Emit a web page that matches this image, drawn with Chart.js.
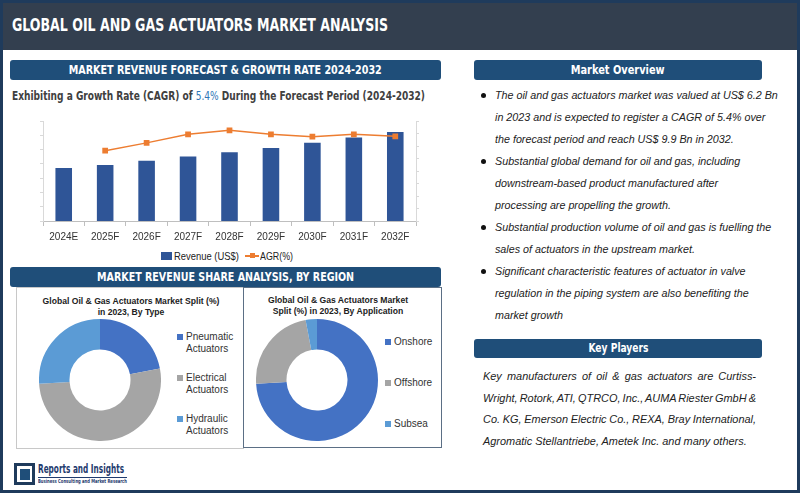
<!DOCTYPE html>
<html>
<head>
<meta charset="utf-8">
<script src="https://cdn.jsdelivr.net/npm/chart.js@4"></script>
<style>
  body { margin: 0; }
  #page {
    position: relative; width: 800px; height: 493px; overflow: hidden;
    background: #fff; font-family: "Liberation Sans", Arial, sans-serif;
  }
  .abs { position: absolute; }
  #frame { left: 0; top: 0; width: 800px; height: 493px; box-sizing: border-box; border: 3px solid #1f3b5c; }
  #header { left: 0; top: 0; width: 800px; height: 50px; background: #333f4f; border-top: 3px solid #1f3b5c; box-sizing: border-box; }
  .cond { font-family: "Liberation Sans Narrow", "DejaVu Sans Condensed", "Liberation Sans", sans-serif; }
  .fit { display: inline-block; white-space: nowrap; }
  #title { left: 12px; top: 15px; color: #fff; font-weight: bold; font-size: 17px; }
  #title .fit, #sub .fit, .logo .fit, .lg .fit { transform-origin: left center; }
  .bar {
    background: #1f4e79; color: #fff; border-radius: 3px; height: 20px; line-height: 20px;
    text-align: center; font-weight: bold; font-size: 12px; white-space: nowrap;
  }
  #sub { left: 12px; top: 89px; font-weight: bold; font-size: 12px; color: #404040; }
  #sub span span { color: #2e75b6; font-weight: normal; }
  .txt { font-style: italic; font-size: 11px; color: #222; white-space: nowrap; }
  .line { height: 22px; line-height: 22px; }
  .dot { width: 5px; height: 5px; border-radius: 50%; background: #111; }
  .box { box-sizing: border-box; background: #fff; }
  .dtitle { font: bold 8.6px Arial, "Liberation Sans", sans-serif; color: #222; text-align: center; line-height: 10.5px; }
  .leg { font-size: 10px; color: #333; line-height: 11.5px; }
  .lg { font-size: 11px; color: #222; line-height: 12px; }
  .sq { width: 6px; height: 6px; }
  .kline { height: 21.7px; line-height: 21.7px; white-space: nowrap; }
</style>
</head>
<body>
<div id="page">
  <div id="header" class="abs"></div>
  <div id="title" class="abs cond"><span class="fit" data-w="376">GLOBAL OIL AND GAS ACTUATORS MARKET ANALYSIS</span></div>

  <div class="abs bar cond" style="left:10px;top:60px;width:431px;"><span class="fit" data-w="313">MARKET REVENUE FORECAST &amp; GROWTH RATE 2024-2032</span></div>
  <div class="abs bar cond" style="left:474px;top:60px;width:288px;"><span class="fit" data-w="94">Market Overview</span></div>
  <div id="sub" class="abs cond"><span class="fit" data-w="413">Exhibiting a Growth Rate (CAGR) of <span>5.4%</span> During the Forecast Period (2024-2032)</span></div>

  <canvas id="revChart" class="abs" style="left:0;top:110px;" width="450" height="140"></canvas>

  <!-- bar chart legend -->
  <div class="abs" style="left:161px;top:252px;width:11px;height:8px;background:#2f5597;"></div>
  <div class="abs lg" style="left:174px;top:250px;"><span class="fit" data-w="65">Revenue (US$)</span></div>
  <div class="abs" style="left:245px;top:255px;width:14px;height:2px;background:#ed7d31;"></div>
  <div class="abs" style="left:250px;top:253px;width:5px;height:5px;background:#ed7d31;"></div>
  <div class="abs lg" style="left:260px;top:250px;"><span class="fit" data-w="33">AGR(%)</span></div>

  <div class="abs bar cond" style="left:10px;top:267px;width:431px;"><span class="fit" data-w="257">MARKET REVENUE SHARE ANALYSIS, BY REGION</span></div>

  <div class="abs box" style="left:16px;top:287px;width:228px;height:162px;border:1px solid #c8c8c8;"></div>
  <div class="abs box" style="left:243px;top:287px;width:199px;height:161px;border:1px solid #5b6f85;"></div>

  <div class="abs dtitle" style="left:16px;top:296px;width:230px;">Global Oil &amp; Gas Actuators Market Split (%)<br>in 2023, By Type</div>
  <div class="abs dtitle" style="left:243px;top:295px;width:190px;">Global Oil &amp; Gas Actuators Market<br>Split (%) in 2023, By Application</div>

  <canvas id="typeChart" class="abs" style="left:39px;top:319px;" width="122" height="122"></canvas>
  <canvas id="appChart" class="abs" style="left:256px;top:319px;" width="122" height="122"></canvas>

  <div id="typeLegend"></div>
  <div id="appLegend"></div>

  <!-- logo -->
  <div class="abs" style="left:14px;top:463px;width:21px;height:22px;box-sizing:border-box;border:3px solid #1f3b5c;background:#fff;"></div>
  <div class="abs" style="left:20px;top:469px;width:10px;height:11px;background:#1f4e79;"></div>
  <div class="abs logo cond" style="left:38px;top:462px;font-weight:bold;font-size:12px;color:#1f3b6e;"><span class="fit" data-w="86">Reports and Insights</span></div>
  <div class="abs" style="left:38px;top:477px;width:89px;height:1px;background:#1f3b6e;"></div>
  <div class="abs logo cond" style="left:38px;top:478px;font-weight:bold;font-size:5.5px;color:#1f3b6e;"><span class="fit" data-w="89">Business Consulting and Market Research</span></div>

  <div id="overview" class="abs" style="left:481px;top:84px;"></div>

  <div class="abs bar cond" style="left:474px;top:339px;width:288px;height:19px;line-height:19px;"><span class="fit" data-w="60">Key Players</span></div>
  <div id="players" class="abs" style="left:483px;top:366px;"></div>

  <div id="frame" class="abs"></div>
</div>

<script>
const years = ["2024E", "2025F", "2026F", "2027F", "2028F", "2029F", "2030F", "2031F", "2032F"];
const revenue = [6.5, 6.8, 7.2, 7.6, 8.0, 8.4, 8.9, 9.4, 9.9];
const agr = [null, 4.5, 5.0, 5.55, 5.8, 5.55, 5.4, 5.55, 5.42];

const typeLabels = [["Pneumatic", "Actuators"], ["Electrical", "Actuators"], ["Hydraulic", "Actuators"]];
const typeShare = [22, 52, 26];
const appLabels = ["Onshore", "Offshore", "Subsea"];
const appShare = [74, 23, 3];

const overviewLines = [
    ["The oil and gas actuators market was valued at US$ 6.2 Bn",
     "in 2023 and is expected to register a CAGR of 5.4% over",
     "the forecast period and reach US$ 9.9 Bn in 2032."],
    ["Substantial global demand for oil and gas, including",
     "downstream-based product manufactured after",
     "processing are propelling the growth."],
    ["Substantial production volume of oil and gas is fuelling the",
     "sales of actuators in the upstream market."],
    ["Significant characteristic features of actuator in valve",
     "regulation in the piping system are also benefiting the",
     "market growth"]
];
const playerLines = [
    "Key manufacturers of oil & gas actuators are Curtiss-",
    "Wright, Rotork, ATI, QTRCO, Inc., AUMA Riester GmbH &",
    "Co. KG, Emerson Electric Co., REXA, Bray International,",
    "Agromatic Stellantriebe, Ametek Inc. and many others."
];

const BLUE = "#4472c4", GREY = "#a5a5a5", LIGHT = "#5b9bd5";

/* =========================
   TEXT BLOCKS
========================= */

// squeeze headings to the widths they have in the picture
document.querySelectorAll(".fit").forEach(el => {
    const w = el.getBoundingClientRect().width;
    el.style.transform = "scaleX(" + (Number(el.dataset.w) / w) + ")";
});

const overview = document.getElementById("overview");
let row = 0;
const ovLines = [];
overviewLines.forEach(item => {
    item.forEach((t, i) => {
        if (i === 0) {
            const d = document.createElement("div");
            d.className = "abs dot";
            d.style.left = "0px";
            d.style.top = (row * 22 + 9) + "px";
            overview.appendChild(d);
        }
        const l = document.createElement("div");
        l.className = "abs txt line";
        l.style.left = "14px";
        l.style.top = (row * 22) + "px";
        l.innerHTML = "<span>" + t + "</span>";
        overview.appendChild(l);
        ovLines.push(l);
        row++;
    });
});
// first line runs 283px wide in the reference
const ov0 = ovLines[0].firstChild.getBoundingClientRect().width;
ovLines.forEach(l => { l.style.fontSize = (11 * 283 / ov0) + "px"; });

const players = document.getElementById("players");
const pl = playerLines.map(t => {
    const l = document.createElement("div");
    l.className = "txt kline";
    const s = document.createElement("span");
    s.textContent = t;
    l.appendChild(s);
    players.appendChild(l);
    return l;
});
// last line is 264px wide; other lines are justified to 273px
const lastW = pl[pl.length - 1].firstChild.getBoundingClientRect().width;
const fs = 11 * 264 / lastW;
pl.forEach((l, i) => {
    l.style.fontSize = fs + "px";
    if (i < pl.length - 1) {
        const w = l.firstChild.getBoundingClientRect().width;
        const gaps = playerLines[i].split(" ").length - 1;
        l.style.wordSpacing = ((273 - w) / gaps) + "px";
    }
});

function legend(id, labels, colors, x, ys) {
    const box = document.getElementById(id);
    labels.forEach((lab, i) => {
        const s = document.createElement("div");
        s.className = "abs sq";
        s.style.left = x + "px";
        s.style.top = (ys[i] + 3) + "px";
        s.style.background = colors[i];
        box.appendChild(s);
        const t = document.createElement("div");
        t.className = "abs leg";
        t.style.left = (x + 9) + "px";
        t.style.top = ys[i] + "px";
        t.innerHTML = [].concat(lab).join("<br>");
        box.appendChild(t);
    });
}
legend("typeLegend", typeLabels, [BLUE, GREY, LIGHT], 177, [331, 372, 413]);
legend("appLegend", appLabels, [BLUE, GREY, LIGHT], 385, [336, 377, 418]);

/* =========================
   REVENUE CHART
========================= */

const axisFont = { family: "Liberation Sans, Arial, sans-serif", size: 10 };

new Chart(document.getElementById("revChart"), {
    data: {
        labels: years,
        datasets: [
            {
                type: "line",
                label: "AGR(%)",
                data: agr,
                yAxisID: "y1",
                borderColor: "#ed7d31",
                backgroundColor: "#ed7d31",
                borderWidth: 1.5,
                pointStyle: "rect",
                pointRadius: 3,
                order: 0
            },
            {
                type: "bar",
                label: "Revenue (US$)",
                data: revenue,
                yAxisID: "y",
                backgroundColor: "#2f5597",
                barPercentage: 0.4,
                categoryPercentage: 1,
                order: 1
            }
        ]
    },
    options: {
        responsive: false,
        animation: false,
        layout: { padding: { top: 11, bottom: 4, left: 0, right: 0 } },
        plugins: { legend: { display: false }, tooltip: { enabled: false } },
        scales: {
            x: {
                grid: { drawOnChartArea: false, drawTicks: true, tickLength: 5, color: "#bfbfbf", offset: true },
                border: { color: "#bfbfbf" },
                ticks: { color: "#333", font: axisFont, padding: 5, maxRotation: 0 },
                afterFit: s => { s.height = 25; }
            },
            y: {
                position: "left",
                min: 1.5,
                max: 10.95,
                ticks: { display: false, count: 8 },
                grid: { drawOnChartArea: false, tickLength: 3, color: "#d9d9d9" },
                border: { color: "#d9d9d9" },
                afterFit: s => { s.width = 43; }
            },
            y1: {
                position: "right",
                min: 0,
                max: 6.4,
                ticks: { display: false, stepSize: 0.8 },
                grid: { drawOnChartArea: false, tickLength: 3, color: "#d9d9d9" },
                border: { color: "#d9d9d9" },
                afterFit: s => { s.width = 34; }
            }
        }
    }
});

/* =========================
   SHARE DONUTS
========================= */

function donut(id, labels, values) {
    new Chart(document.getElementById(id), {
        type: "doughnut",
        data: {
            labels: labels.map(l => [].concat(l).join(" ")),
            datasets: [{ data: values, backgroundColor: [BLUE, GREY, LIGHT], borderWidth: 0 }]
        },
        options: {
            responsive: false,
            animation: false,
            cutout: "50%",
            plugins: { legend: { display: false }, tooltip: { enabled: false } }
        }
    });
}
donut("typeChart", typeLabels, typeShare);
donut("appChart", appLabels, appShare);
</script>
</body>
</html>
